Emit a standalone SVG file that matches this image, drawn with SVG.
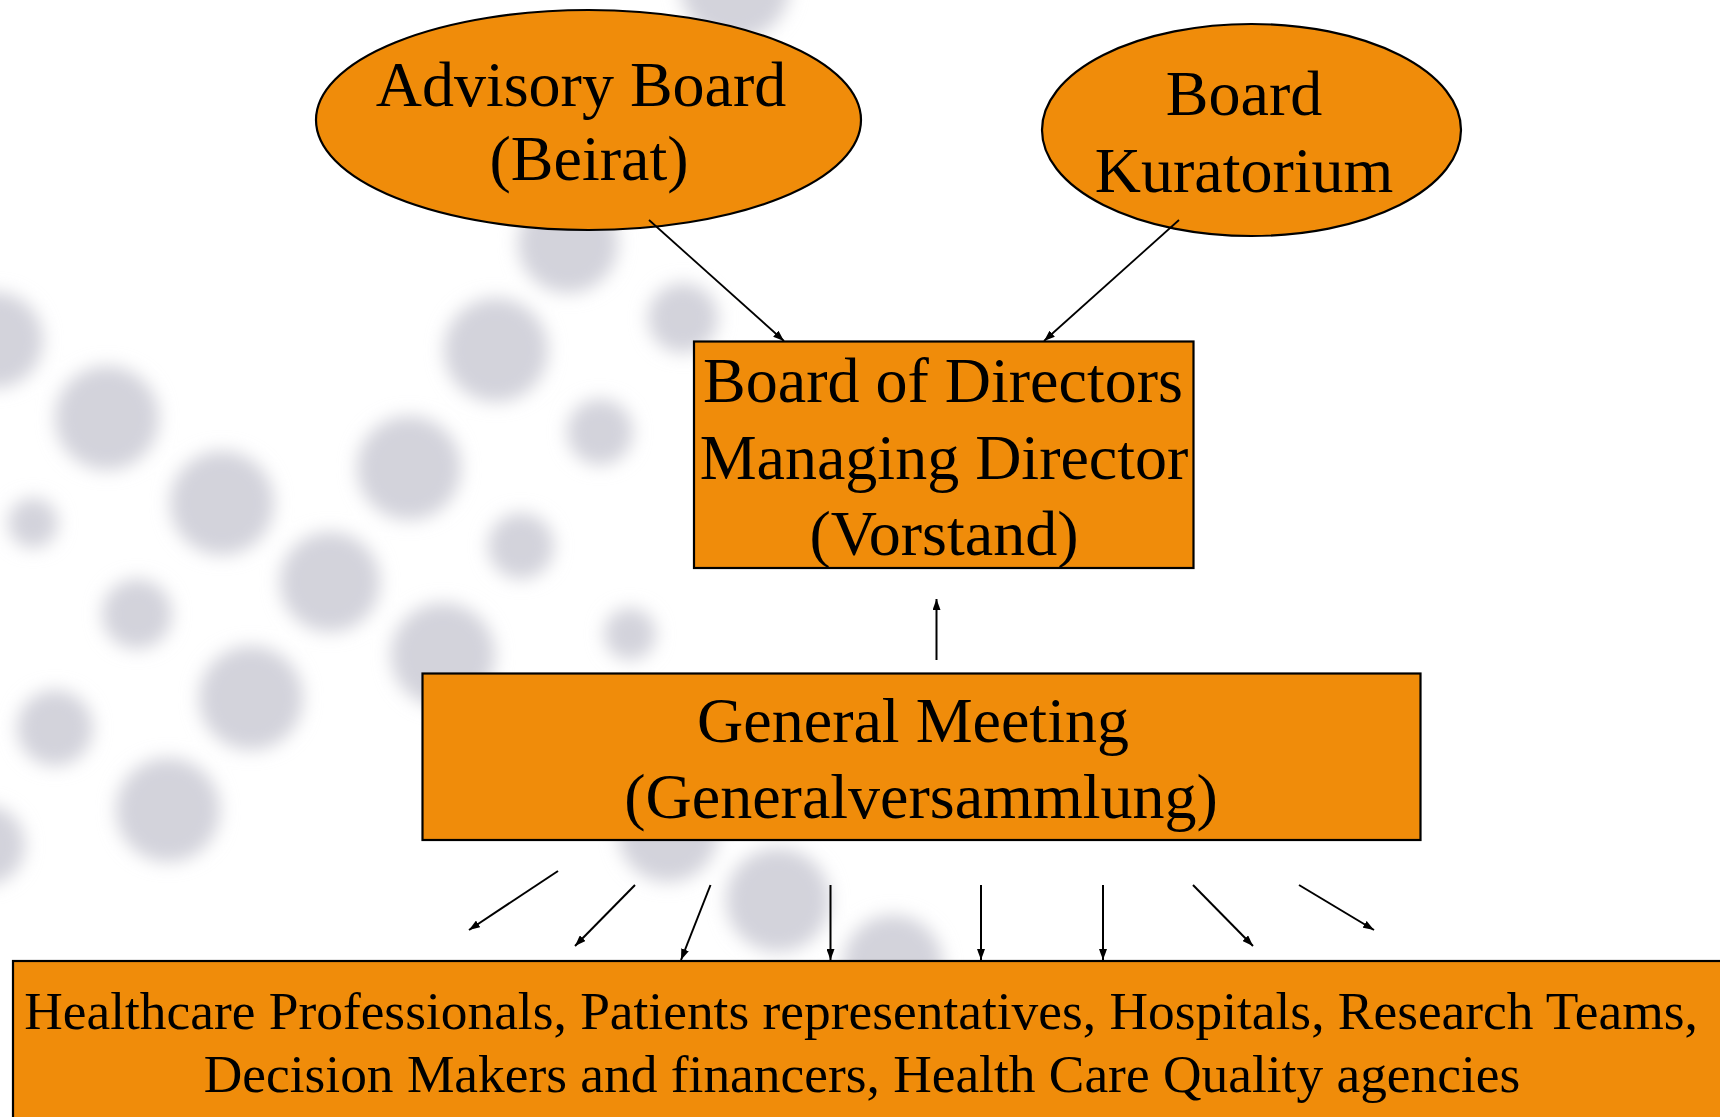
<svg xmlns="http://www.w3.org/2000/svg" width="1720" height="1117" viewBox="0 0 1720 1117">
<defs>
<filter id="blur" x="-50%" y="-50%" width="200%" height="200%"><feGaussianBlur stdDeviation="9"/></filter>
<marker id="ah" markerUnits="userSpaceOnUse" markerWidth="12" markerHeight="8" refX="11" refY="4" orient="auto"><path d="M0,0 L11,4 L0,8 z" fill="#000"/></marker>
</defs>
<style>
.shape{fill:#F08C0A;stroke:#000;stroke-width:2.2}
.big{font-family:"Liberation Serif","Times New Roman",serif;font-size:64px;fill:#000;text-anchor:middle}
.small{font-family:"Liberation Serif","Times New Roman",serif;font-size:53.4px;fill:#000;text-anchor:middle}
.conn{stroke:#000;fill:none;marker-end:url(#ah)}
.dot{fill:#D3D3DB}
</style>
<rect width="1720" height="1117" fill="#fff"/>
<g id="background" filter="url(#blur)">
<circle class="dot" cx="735" cy="-15" r="55"/>
<circle class="dot" cx="568" cy="243" r="50"/>
<circle class="dot" cx="683" cy="318" r="35"/>
<circle class="dot" cx="496" cy="350" r="52"/>
<circle class="dot" cx="-5" cy="340" r="48"/>
<circle class="dot" cx="107" cy="418" r="52"/>
<circle class="dot" cx="600" cy="432" r="33"/>
<circle class="dot" cx="409" cy="468" r="52"/>
<circle class="dot" cx="222" cy="503" r="52"/>
<circle class="dot" cx="33" cy="523" r="25"/>
<circle class="dot" cx="521" cy="546" r="33"/>
<circle class="dot" cx="330" cy="582" r="50"/>
<circle class="dot" cx="137" cy="614" r="35"/>
<circle class="dot" cx="630" cy="634" r="26"/>
<circle class="dot" cx="443" cy="655" r="52"/>
<circle class="dot" cx="251" cy="698" r="52"/>
<circle class="dot" cx="55" cy="728" r="38"/>
<circle class="dot" cx="168" cy="810" r="52"/>
<circle class="dot" cx="-15" cy="845" r="40"/>
<circle class="dot" cx="668" cy="832" r="50"/>
<circle class="dot" cx="778" cy="900" r="52"/>
<circle class="dot" cx="893" cy="965" r="50"/>
</g>
<g id="advisory-board">
<ellipse class="shape" cx="588.5" cy="120" rx="272.5" ry="110"/>
<text class="big" x="581" y="106">Advisory Board</text>
<text class="big" x="589" y="180">(Beirat)</text>
</g>
<g id="board-kuratorium">
<ellipse class="shape" cx="1251.5" cy="130" rx="209.5" ry="106"/>
<text class="big" x="1244" y="115">Board</text>
<text class="big" x="1244" y="192">Kuratorium</text>
</g>
<g id="board-of-directors">
<rect class="shape" x="694" y="341.5" width="499.5" height="226.5"/>
<text class="big" x="943" y="402">Board of Directors</text>
<text class="big" x="944" y="479">Managing Director</text>
<text class="big" x="944" y="555">(Vorstand)</text>
</g>
<g id="general-meeting">
<rect class="shape" x="422.5" y="673.5" width="998" height="166.5"/>
<text class="big" x="913" y="742">General Meeting</text>
<text class="big" x="921" y="818">(Generalversammlung)</text>
</g>
<g id="stakeholders">
<rect class="shape" x="13" y="961" width="1720" height="200"/>
<text class="small" x="861" y="1029">Healthcare Professionals, Patients representatives, Hospitals, Research Teams,</text>
<text class="small" x="862" y="1092">Decision Makers and financers, Health Care Quality agencies</text>
</g>
<g id="connectors">
<line class="conn" stroke-width="1.8" x1="649" y1="220" x2="784" y2="341"/>
<line class="conn" stroke-width="1.8" x1="1179" y1="220" x2="1044" y2="341"/>
<line class="conn" stroke-width="2" x1="936.5" y1="660" x2="936.5" y2="599"/>
<line class="conn" stroke-width="2" x1="558" y1="871" x2="469" y2="930"/>
<line class="conn" stroke-width="2" x1="635" y1="885" x2="575" y2="946"/>
<line class="conn" stroke-width="2" x1="710.5" y1="885" x2="681" y2="960"/>
<line class="conn" stroke-width="2" x1="830.5" y1="885" x2="830.5" y2="960"/>
<line class="conn" stroke-width="2" x1="981" y1="885" x2="981" y2="960"/>
<line class="conn" stroke-width="2" x1="1103" y1="885" x2="1103" y2="960"/>
<line class="conn" stroke-width="2" x1="1193" y1="885" x2="1253" y2="946"/>
<line class="conn" stroke-width="2" x1="1299" y1="885" x2="1374" y2="930"/>
</g>
</svg>
